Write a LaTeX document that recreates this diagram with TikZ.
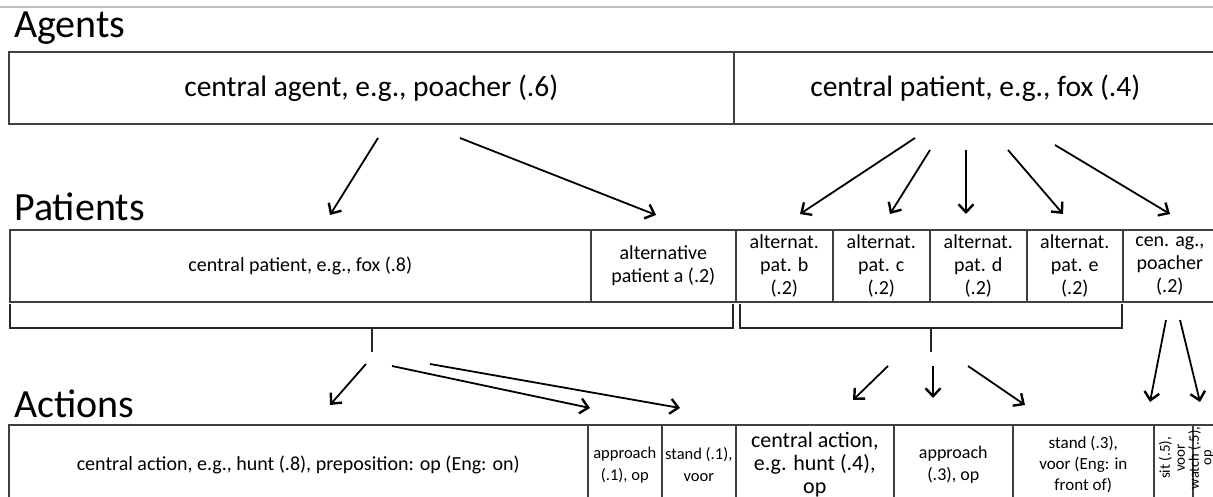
\documentclass[tikz,border=0pt]{standalone}
\usepackage{fontspec}
\setmainfont{Carlito}
\usetikzlibrary{arrows.meta}

\definecolor{rulegray}{HTML}{BFBFBF}
\definecolor{boxgray}{HTML}{404040}

\begin{document}
\begin{tikzpicture}[x=1pt,y=1pt,
    >={Straight Barb[length=8pt,width=15pt,line width=2.4pt]}]
  \tikzstyle{every node}+=[inner sep=0pt]
  \tikzstyle{cell}=[draw=boxgray,line width=1.6pt,align=center,anchor=north west]
  \tikzstyle{title}=[anchor=base west,font=\fontsize{40}{44}\selectfont]
  \tikzstyle{arr}=[->,black,line width=1.8pt]
  \tikzstyle{brace}=[black!85,line width=1.8pt]
  \useasboundingbox (0,0) rectangle (1213,-497);
  \draw [rulegray,line width=1.4pt] (0,-7) -- (1213,-7);

  % agents
  \node [title] (tagents) at (14,-38) {Agents};
  \node [cell,minimum width=725,minimum height=72,font=\fontsize{29.5}{32}\selectfont] (ag) at (8,-51) {central agent, e.g., poacher (.6)};
  \node [cell,minimum width=483,minimum height=72,font=\fontsize{29.5}{32}\selectfont] (pt) at (733,-51) {central patient, e.g., fox (.4)};

  % patients
  \node [title] (tpatients) at (14,-221) {Patients};
  \tikzstyle{pcell}=[cell,minimum height=72,font=\fontsize{20}{23}\selectfont]
  \node [pcell,minimum width=581] (pc) at (9,-229) {central patient, e.g., fox (.8)};
  \node [pcell,minimum width=145] (pa) at (590,-229) {alternative\\patient a (.2)};
  \node [pcell,minimum width=97] (pb) at (735,-229) {alternat.\\pat. b\\(.2)};
  \node [pcell,minimum width=97] (pcc) at (832,-229) {alternat.\\pat. c\\(.2)};
  \node [pcell,minimum width=97] (pd) at (929,-229) {alternat.\\pat. d\\(.2)};
  \node [pcell,minimum width=96] (pe) at (1026,-229) {alternat.\\pat. e\\(.2)};
  \node [pcell,minimum width=94] (pg) at (1122,-229) {cen. ag.,\\poacher\\(.2)};

  % brackets under the patients
  \draw [brace] (10,-304) -- (10,-328) -- (733,-328) -- (733,-304);
  \draw [brace] (740,-304) -- (740,-328) -- (1122,-328) -- (1122,-304);
  \coordinate (lstem) at (372,-328);
  \coordinate (rstem) at (931,-328);
  \draw [brace] (lstem) -- ++(0,-24);
  \draw [brace] (rstem) -- ++(0,-24);

  % actions
  \node [title] (tactions) at (14,-417) {Actions};
  \tikzstyle{acell}=[cell,minimum height=80]
  \node [acell,minimum width=579,font=\fontsize{20}{23}\selectfont] (ac) at (8,-424) {central action, e.g., hunt (.8), preposition: op (Eng: on)};
  \node [acell,minimum width=74,font=\fontsize{16.5}{22}\selectfont] (aa) at (587,-424) {approach\\(.1), op};
  \node [acell,minimum width=74,font=\fontsize{16.5}{22}\selectfont] (as) at (661,-424) {stand (.1),\\voor};
  \node [acell,minimum width=158,font=\fontsize{22}{23}\selectfont] (ab) at (735,-424) {central action,\\e.g. hunt (.4),\\op};
  \node [acell,minimum width=119,font=\fontsize{18}{22}\selectfont] (ap) at (893,-424) {approach\\(.3), op};
  \node [acell,minimum width=141,font=\fontsize{17}{21}\selectfont] (at) at (1012,-424) {stand (.3),\\voor (Eng: in\\front of)};
  \node [acell,minimum width=39] (asit) at (1153,-424) {};
  \node [acell,minimum width=30] (awatch) at (1192,-424) {};
  \node [rotate=90,align=center,font=\fontsize{15}{15}\selectfont] (tsit) at (1172,-458) {sit (.5),\\voor};
  \node [rotate=90,align=center,font=\fontsize{14.5}{12.5}\selectfont] (twatch) at (1201,-458) {watch (.5),\\op};

  % arrows agents -> patients
  \coordinate (s1) at (378,-138); \coordinate (e1) at (330,-215);
  \coordinate (s2) at (460,-138); \coordinate (e2) at (656,-215);
  \coordinate (s3) at (915,-138); \coordinate (e3) at (800,-214);
  \coordinate (s4) at (930,-150); \coordinate (e4) at (890,-214);
  \coordinate (s5) at (966,-150); \coordinate (e5) at (966,-214);
  \coordinate (s6) at (1008,-150); \coordinate (e6) at (1063,-214);
  \coordinate (s7) at (1055,-145); \coordinate (e7) at (1170,-214);
  \foreach \i in {1,...,7}
    \draw [arr] (s\i) -- (e\i);

  % arrows patients -> actions
  \coordinate (t1) at (366,-364); \coordinate (f1) at (330,-405);
  \coordinate (t2) at (392,-366); \coordinate (f2) at (590,-408);
  \coordinate (t3) at (430,-364); \coordinate (f3) at (680,-408);
  \coordinate (t4) at (888,-366); \coordinate (f4) at (853,-400);
  \coordinate (t5) at (933,-366); \coordinate (f5) at (933,-398);
  \coordinate (t6) at (968,-366); \coordinate (f6) at (1025,-405);
  \coordinate (t7) at (1166,-320); \coordinate (f7) at (1150,-402);
  \coordinate (t8) at (1180,-320); \coordinate (f8) at (1200,-402);
  \foreach \i in {1,...,8}
    \draw [arr] (t\i) -- (f\i);
\end{tikzpicture}
\end{document}
